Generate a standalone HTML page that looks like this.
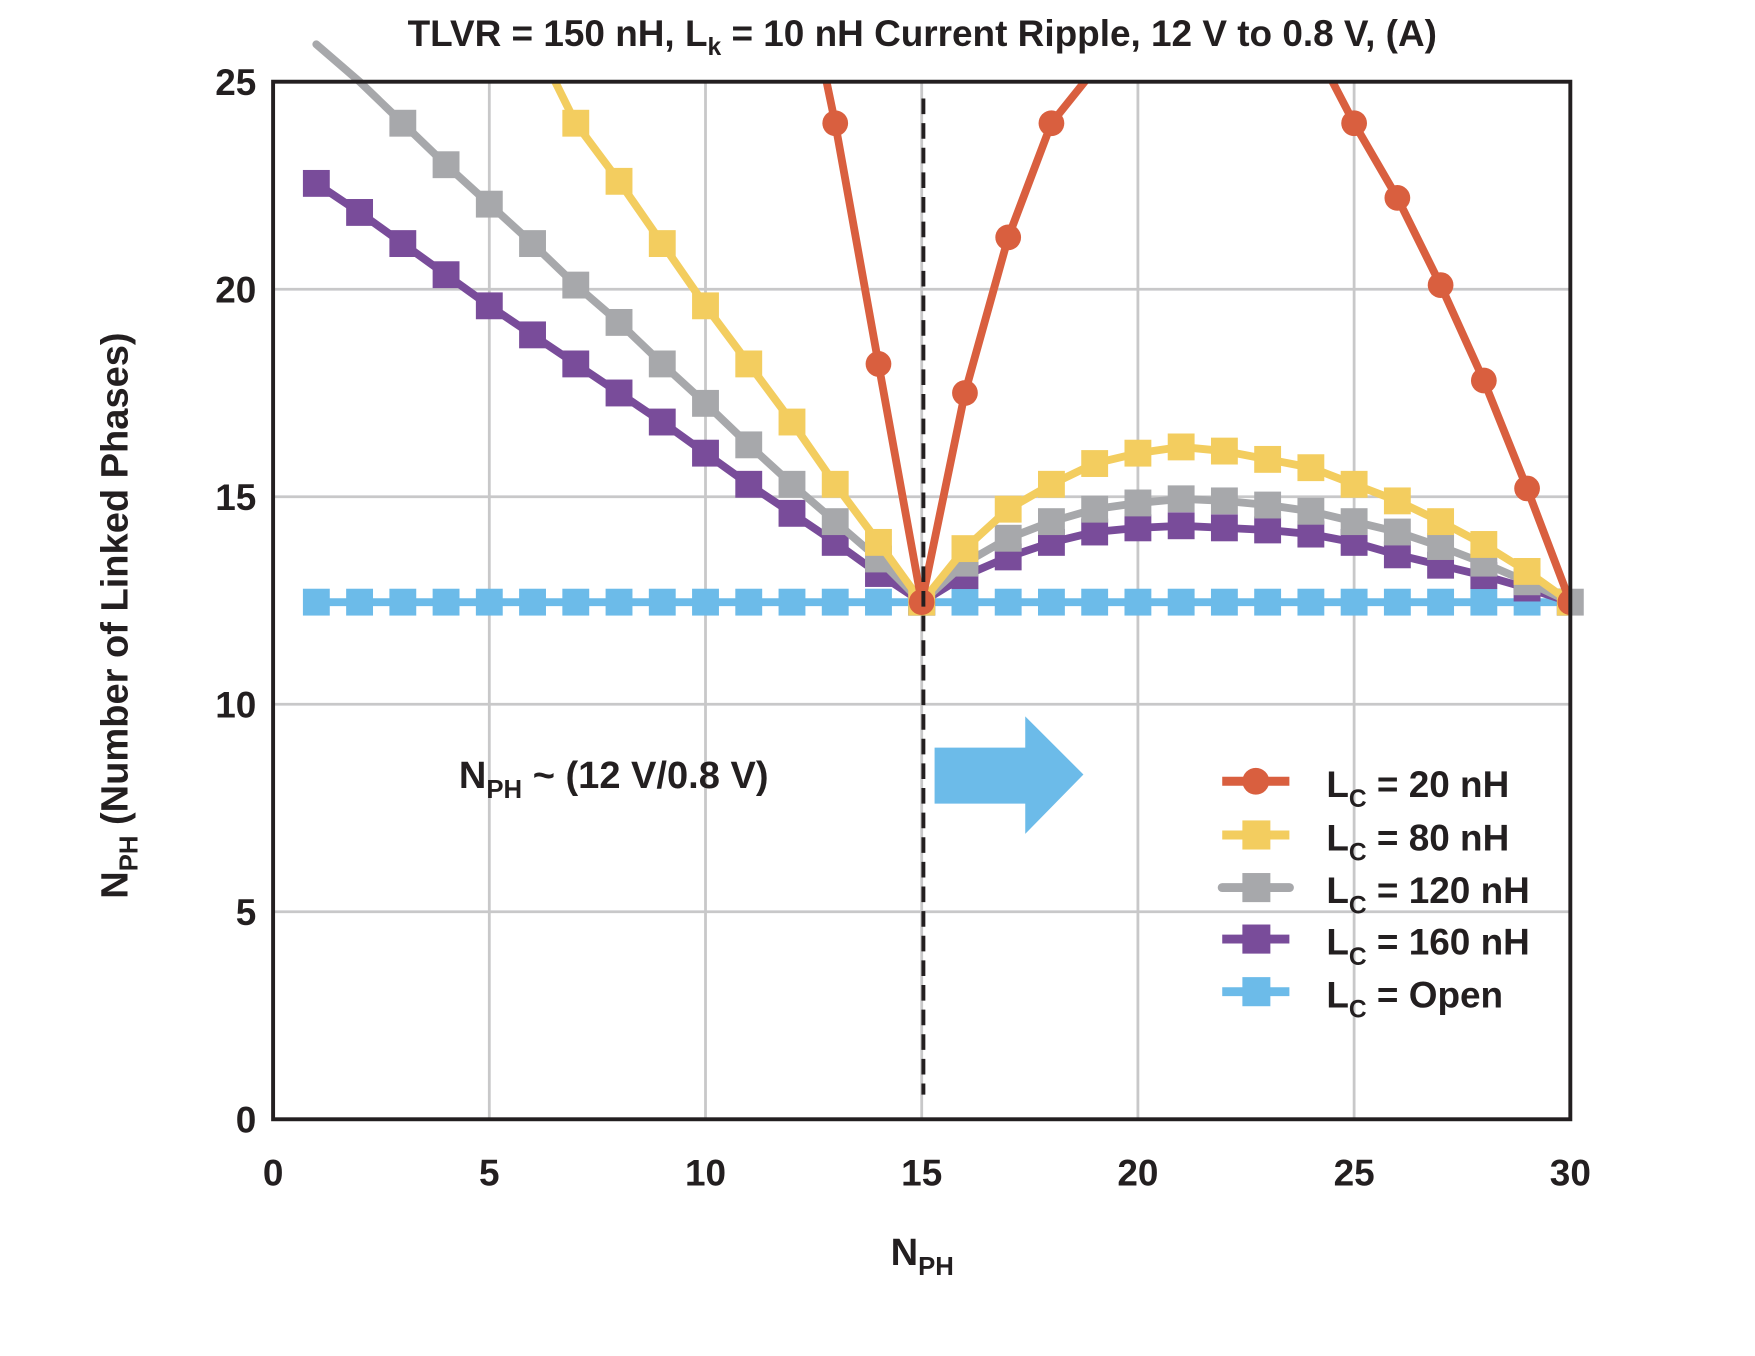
<!DOCTYPE html>
<html><head><meta charset="utf-8"><style>
html,body{margin:0;padding:0;background:#fff;}
svg{display:block;}
text{font-family:"Liberation Sans Narrow","Liberation Sans",sans-serif;font-weight:bold;fill:#231f20;}
</style></head><body>
<svg id="chart" width="1755" height="1356" viewBox="0 0 1568 1211.5" xmlns="http://www.w3.org/2000/svg">
<defs><clipPath id="plotclip"><rect x="244" y="73" width="1159" height="927"/></clipPath></defs>
<text x="824" y="41" font-size="33" text-anchor="middle">TLVR = 150 nH, L<tspan font-size="22" dy="8">k</tspan><tspan dy="-8"> = 10 nH Current Ripple, 12 V to 0.8 V, (A)</tspan></text>
<g id="grid"></g>
<g id="series"></g>
<line x1="825" y1="88" x2="825" y2="978" stroke="#231f20" stroke-width="3.5" stroke-dasharray="14,8"/>
<polygon points="835,668 916,668 916,640 968,692 916,745 916,718 835,718" fill="#6cbbe9"/>
<text x="410" y="704" font-size="34">N<tspan font-size="23" dy="9">PH</tspan><tspan dy="-9"> ~ (12 V/0.8 V)</tspan></text>
<rect x="244" y="73" width="1159" height="927" fill="none" stroke="#231f20" stroke-width="3.5"/>
<g id="ticks"></g>
<text x="824" y="1130" font-size="34" text-anchor="middle">N<tspan font-size="23" dy="9">PH</tspan></text>
<text transform="translate(114,550) rotate(-90)" font-size="34" text-anchor="middle">N<tspan font-size="23" dy="9">PH</tspan><tspan dy="-9"> (Number of Linked Phases)</tspan></text>
<g id="legend"></g>
</svg>
<script>
const xTicks = [0,5,10,15,20,25,30];
const yTicks = [0,5,10,15,20,25];
const xs = [1,2,3,4,5,6,7,8,9,10,11,12,13,14,15,16,17,18,19,20,21,22,23,24,25,26,27,28,29,30];
const red = [null,null,null,null,null,null,null,null,null,null,null,29,24,18.2,12.46,17.5,21.25,24,25.3,26.5,27,27.2,27,26,24,22.2,20.1,17.8,15.2,12.46];
const yellow = [null,null,null,null,27.6,26.1,24,22.6,21.1,19.6,18.2,16.8,15.3,13.9,12.46,13.75,14.7,15.3,15.8,16.05,16.2,16.1,15.9,15.7,15.3,14.9,14.4,13.85,13.2,12.46];
const gray = [25.9,25,24,23,22.05,21.1,20.1,19.2,18.2,17.25,16.25,15.3,14.4,13.5,12.46,13.4,14.0,14.4,14.7,14.85,14.95,14.9,14.8,14.65,14.4,14.15,13.8,13.4,12.95,12.46];
const purple = [22.55,21.85,21.1,20.35,19.6,18.9,18.2,17.5,16.8,16.05,15.3,14.6,13.9,13.15,12.46,13.1,13.55,13.9,14.15,14.25,14.3,14.25,14.2,14.1,13.9,13.6,13.35,13.1,12.8,12.46];
const openLc = [12.46,12.46,12.46,12.46,12.46,12.46,12.46,12.46,12.46,12.46,12.46,12.46,12.46,12.46,12.46,12.46,12.46,12.46,12.46,12.46,12.46,12.46,12.46,12.46,12.46,12.46,12.46,12.46,12.46,12.46];
const legendLabels = ["20 nH","80 nH","120 nH","160 nH","Open"];

const NS="http://www.w3.org/2000/svg";
const X0=244,X1=1403,Y0=1000,Y1=73;
const sx=v=>X0+(v-0)/(30-0)*(X1-X0);
const sy=v=>Y0-(v-0)/(25-0)*(Y0-Y1);
function mk(tag,attrs,parent){const e=document.createElementNS(NS,tag);for(const k in attrs)e.setAttribute(k,attrs[k]);parent.appendChild(e);return e;}

const grid=document.getElementById('grid');
xTicks.forEach(t=>{if(t>0&&t<30){const l=mk('line',{x1:sx(t),x2:sx(t),y1:Y1,y2:Y0,stroke:'#c8c8c9','stroke-width':2.5},grid);

}});
yTicks.forEach(t=>{if(t>0&&t<25){const l=mk('line',{x1:X0,x2:X1,y1:sy(t),y2:sy(t),stroke:'#c8c8c9','stroke-width':2.5},grid);

}});
const ticks=document.getElementById('ticks');
xTicks.forEach(t=>{const e=mk('text',{x:sx(t),y:1059,'font-size':33,'text-anchor':'middle'},ticks);e.textContent=t;

});
yTicks.forEach(t=>{const e=mk('text',{x:229,y:sy(t)+12,'font-size':33,'text-anchor':'end'},ticks);e.textContent=t;

});

const series=[
 {name:'series-open',vals:openLc,color:'#6cbbe9',shape:'sq',clip:true},
 {name:'series-160nh',vals:purple,color:'#794c9a',shape:'sq',clip:true},
 {name:'series-120nh',vals:gray,color:'#a7a8ab',shape:'sq',clip:false},
 {name:'series-80nh',vals:yellow,color:'#f3cd5f',shape:'sq',clip:true},
 {name:'series-20nh',vals:red,color:'#d95f3f',shape:'ci',clip:true}
];
const sg=document.getElementById('series');
series.forEach(s=>{
 const g=mk('g',{},sg);
 
 
 if(s.clip)g.setAttribute('clip-path','url(#plotclip)');
 let d='';let started=false;
 xs.forEach((x,i)=>{const v=s.vals[i];if(v==null){started=false;return;}d+=(started?'L':'M')+sx(x).toFixed(1)+','+sy(v).toFixed(1);started=true;});
 const p=mk('path',{d:d,fill:'none',stroke:s.color,'stroke-width':7,'stroke-linecap':'round','stroke-linejoin':'round'},g);
 
 
 xs.forEach((x,i)=>{const v=s.vals[i];if(v==null||v>24.6)return;
  let m;
  if(s.shape==='ci')m=mk('circle',{cx:sx(x),cy:sy(v),r:11.5,fill:s.color},g);
  else m=mk('rect',{x:sx(x)-12,y:sy(v)-12,width:24,height:24,fill:s.color},g);
  
  
 });
});

const lg=document.getElementById('legend');
const lcolors=['#d95f3f','#f3cd5f','#a7a8ab','#794c9a','#6cbbe9'];
const lys=[698,746,793,839,886];
legendLabels.forEach((lab,i)=>{
 const g=mk('g',{},lg);
 
 
 mk('line',{x1:1092,x2:1152,y1:lys[i],y2:lys[i],stroke:lcolors[i],'stroke-width':8,'stroke-linecap':i===2?'round':'butt'},g);
 if(i===0)mk('circle',{cx:1122,cy:lys[i],r:12,fill:lcolors[i]},g);
 else mk('rect',{x:1110,y:lys[i]-13,width:25,height:26,fill:lcolors[i]},g);
 const t=mk('text',{x:1185,y:lys[i]+14,'font-size':33},g);
 t.innerHTML='L<tspan font-size="22" dy="9">C</tspan><tspan dy="-9"> = '+lab+'</tspan>';
});
</script>
</body></html>
